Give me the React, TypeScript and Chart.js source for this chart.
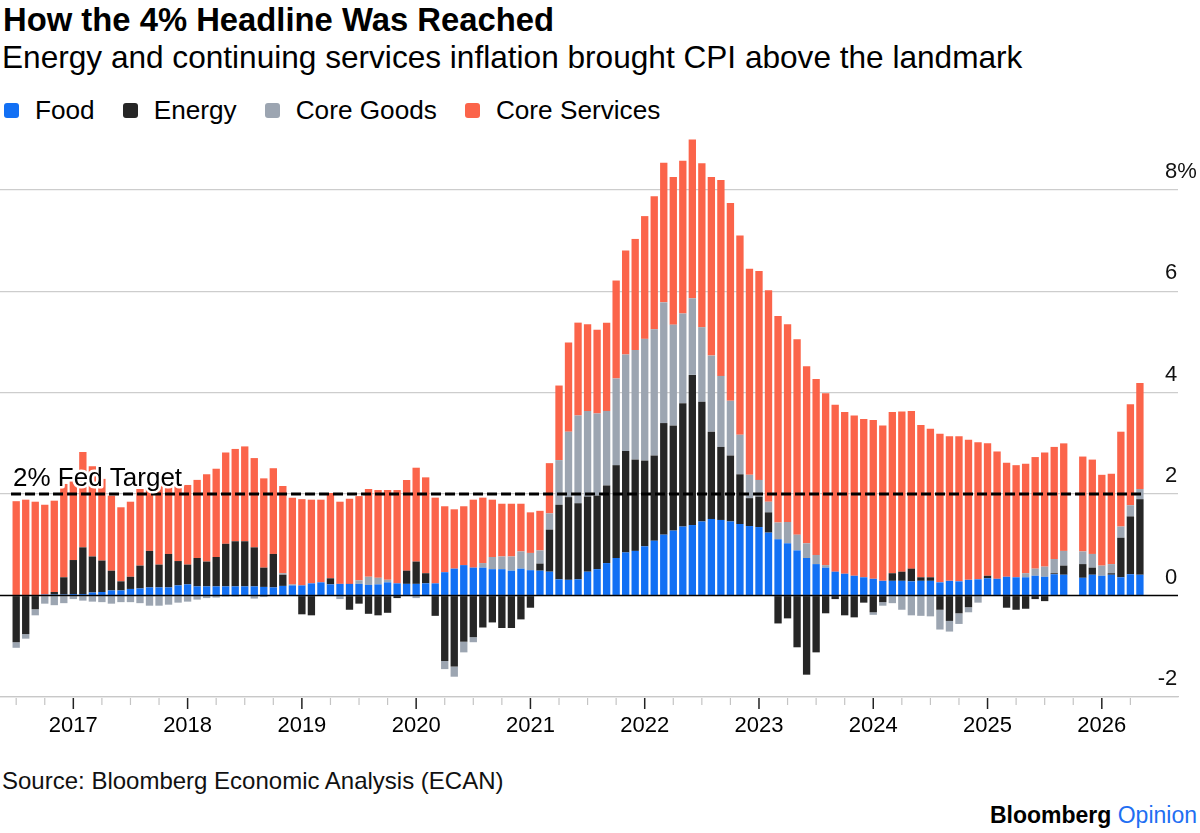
import React, { useEffect, useRef } from "react";
import { Chart, registerables } from "chart.js";

Chart.register(...registerables);

// ---------- data ----------
const START_YEAR = 2016;
const START_MONTH = 7; // first bar: July 2016 (monthly)

const FOOD = [
  0.0, 0.0, 0.0, 0.02, 0.02, 0.02, 0.03, 0.03, 0.06, 0.07, 0.1, 0.1,
  0.13, 0.14, 0.16, 0.16, 0.16, 0.2, 0.22, 0.18, 0.18, 0.18, 0.18, 0.18,
  0.18, 0.18, 0.17, 0.16, 0.19, 0.2, 0.2, 0.24, 0.26, 0.22, 0.23, 0.23,
  0.23, 0.21, 0.22, 0.26, 0.24, 0.23, 0.23, 0.24, 0.24, 0.46, 0.53, 0.6,
  0.55, 0.55, 0.52, 0.52, 0.49, 0.53, 0.5, 0.49, 0.47, 0.32, 0.31, 0.32,
  0.47, 0.52, 0.64, 0.74, 0.85, 0.88, 0.97, 1.08, 1.2, 1.28, 1.36, 1.39,
  1.46, 1.51, 1.49, 1.46, 1.41, 1.37, 1.35, 1.24, 1.11, 1.03, 0.89, 0.74,
  0.62, 0.55, 0.47, 0.43, 0.39, 0.36, 0.33, 0.29, 0.29, 0.29, 0.28, 0.29,
  0.29, 0.26, 0.29, 0.28, 0.31, 0.32, 0.34, 0.33, 0.37, 0.36, 0.36, 0.39,
  0.37, 0.42, 0.41, null, 0.35, 0.41, 0.39, 0.41, 0.36, 0.42, 0.41,
];

const ENERGY = [
  -0.92, -0.76, -0.27, 0.0, 0.05, 0.34, 0.67, 0.92, 0.71, 0.62, 0.39, 0.18,
  0.24, 0.45, 0.72, 0.45, 0.66, 0.48, 0.39, 0.56, 0.49, 0.58, 0.84, 0.89,
  0.89, 0.77, 0.38, 0.66, 0.22, 0.0, -0.37, -0.39, 0.0, 0.12, 0.0, -0.28,
  -0.16, -0.36, -0.39, -0.34, -0.05, 0.26, 0.44, 0.2, -0.4, -1.29, -1.4, -0.91,
  -0.82, -0.63, -0.53, -0.64, -0.64, -0.47, -0.24, 0.14, 0.83, 1.47, 1.63, 1.5,
  1.48, 1.45, 1.53, 1.83, 2.0, 1.8, 1.69, 1.68, 2.2, 2.07, 2.43, 2.96,
  2.36, 1.72, 1.44, 1.3, 0.98, 0.55, 0.6, 0.4, -0.55, -0.45, -1.02, -1.56,
  -1.12, -0.35, -0.07, -0.39, -0.43, -0.14, -0.33, -0.13, 0.15, 0.18, 0.25, 0.07,
  0.07, -0.28, -0.5, -0.35, -0.23, 0.0, 0.05, 0.0, -0.24, -0.28, -0.26, -0.07,
  -0.11, 0.02, 0.18, null, 0.27, 0.14, 0.0, 0.03, 0.78, 1.14, 1.49,
];

const CORE_GOODS = [
  -0.11, -0.09, -0.12, -0.16, -0.19, -0.15, -0.07, -0.1, -0.12, -0.13, -0.16, -0.13,
  -0.13, -0.15, -0.2, -0.2, -0.18, -0.14, -0.12, -0.08, -0.05, -0.04, -0.02, -0.02,
  0.0, -0.06, -0.03, 0.0, 0.03, 0.02, 0.0, 0.0, 0.0, 0.0, -0.07, 0.0,
  0.07, 0.16, 0.13, 0.05, 0.0, 0.0, -0.05, 0.0, 0.0, -0.16, -0.2, -0.21,
  -0.1, 0.09, 0.24, 0.25, 0.28, 0.34, 0.34, 0.26, 0.32, 0.88, 1.29, 1.73,
  1.69, 1.62, 1.47, 1.71, 1.9, 2.16, 2.4, 2.49, 2.38, 1.99, 1.77, 1.51,
  1.47, 1.5, 1.4, 1.08, 0.78, 0.46, 0.33, 0.21, 0.33, 0.42, 0.31, 0.29,
  0.18, 0.05, 0.0, 0.0, 0.0, 0.0, -0.05, -0.07, -0.15, -0.28, -0.39, -0.4,
  -0.41, -0.39, -0.21, -0.21, -0.1, -0.14, 0.0, 0.0, 0.0, 0.0, 0.08, 0.14,
  0.2, 0.28, 0.29, null, 0.25, 0.27, 0.2, 0.18, 0.22, 0.22, 0.2,
];

const CORE_SERVICES = [
  1.86, 1.89, 1.85, 1.77, 1.8, 1.84, 1.65, 1.88, 1.78, 1.61, 1.48, 1.46,
  1.48, 1.51, 1.27, 1.59, 1.43, 1.47, 1.57, 1.54, 1.72, 1.74, 1.8, 1.82,
  1.87, 1.76, 1.76, 1.69, 1.72, 1.71, 1.7, 1.65, 1.63, 1.68, 1.62, 1.68,
  1.66, 1.73, 1.73, 1.77, 1.84, 1.79, 1.85, 1.89, 1.69, 1.3, 1.17, 1.16,
  1.34, 1.29, 1.13, 1.04, 1.04, 0.94, 0.8, 0.78, 0.99, 1.47, 1.76, 1.83,
  1.71, 1.65, 1.74, 1.93, 2.05, 2.19, 2.42, 2.62, 2.75, 2.91, 3.01, 3.13,
  3.23, 3.52, 3.86, 3.9, 3.93, 4.06, 4.12, 4.17, 4.07, 3.9, 3.85, 3.49,
  3.47, 3.39, 3.29, 3.19, 3.16, 3.12, 3.13, 3.06, 3.18, 3.16, 3.11, 3.0,
  2.93, 2.93, 2.85, 2.86, 2.76, 2.7, 2.61, 2.51, 2.25, 2.21, 2.16, 2.2,
  2.25, 2.21, 2.12, null, 1.87, 1.86, 1.79, 1.78, 1.87, 1.99, 2.09,
];

const SERIES_NAMES = ["Food", "Energy", "Core Goods", "Core Services"];
const SERIES_COLORS = ["#1270f4", "#262626", "#9ca5b1", "#fb644a"];
const SERIES_VALUES = [FOOD, ENERGY, CORE_GOODS, CORE_SERVICES];

const Y_TICKS = [-2, 0, 2, 4, 6, 8];
const Y_TICK_LABELS = ["-2", "0", "2", "4", "6", "8%"];
const Y_MIN = -2;
const Y_MAX = 9;
const FED_TARGET = 2;
const FED_LABEL = "2% Fed Target";

const TITLE = "How the 4% Headline Was Reached";
const SUBTITLE =
  "Energy and continuing services inflation brought CPI above the landmark";
const SOURCE = "Source: Bloomberg Economic Analysis (ECAN)";

const FONT = "'Liberation Sans', Arial, Helvetica, sans-serif";

// ---------- helpers ----------
const monthOf = (i: number) => (START_MONTH - 1 + i) % 12; // 0 = Jan
const yearOf = (i: number) =>
  START_YEAR + Math.floor((START_MONTH - 1 + i) / 12);

const overlayPlugin = {
  id: "overlay",
  afterDatasetsDraw(chart: any) {
    const { ctx, chartArea, scales } = chart;
    const y = scales.y;
    ctx.save();
    // zero line
    const y0 = y.getPixelForValue(0);
    ctx.strokeStyle = "#000";
    ctx.lineWidth = 1.5;
    ctx.beginPath();
    ctx.moveTo(chartArea.left, y0);
    ctx.lineTo(chartArea.right, y0);
    ctx.stroke();

    // Fed target dashed line spanning the bars
    const meta = chart.getDatasetMeta(0);
    const els = meta.data.filter((e: any) => e && !isNaN(e.x));
    const first = els[0];
    const last = els[els.length - 1];
    const half = (first.width || 7) / 2;
    const yT = y.getPixelForValue(FED_TARGET);
    ctx.setLineDash([10, 4]);
    ctx.lineWidth = 3;
    ctx.strokeStyle = "#000";
    ctx.beginPath();
    ctx.moveTo(first.x - half - 1.5, yT);
    ctx.lineTo(last.x + half, yT);
    ctx.stroke();
    ctx.setLineDash([]);

    // label with white halo
    ctx.font = `26px ${FONT}`;
    ctx.textAlign = "left";
    ctx.textBaseline = "alphabetic";
    ctx.lineJoin = "round";
    ctx.lineWidth = 5;
    ctx.strokeStyle = "#fff";
    const lx = chartArea.left + 13;
    const ly = yT - 8;
    ctx.strokeText(FED_LABEL, lx, ly);
    ctx.fillStyle = "#000";
    ctx.fillText(FED_LABEL, lx, ly);
    ctx.restore();
  },
  afterDraw(chart: any) {
    const { ctx, chartArea, scales } = chart;
    const x = scales.x;
    const y = scales.y;
    ctx.save();
    // x tick marks (quarterly, longer at January)
    x.ticks.forEach((t: any) => {
      const px = x.getPixelForValue(t.value);
      const major = monthOf(t.value) === 0;
      ctx.strokeStyle = major ? "#222" : "#c4c4c4";
      ctx.lineWidth = major ? 1.5 : 1.2;
      ctx.beginPath();
      ctx.moveTo(px, x.top + 1);
      ctx.lineTo(px, x.top + (major ? 12 : 8));
      ctx.stroke();
    });
    // y labels, sitting above their gridlines at the right
    ctx.font = `22px ${FONT}`;
    ctx.fillStyle = "#111";
    ctx.textAlign = "left";
    ctx.textBaseline = "alphabetic";
    y.ticks.forEach((t: any) => {
      const idx = Y_TICKS.indexOf(t.value);
      if (idx < 0) return;
      const label = Y_TICK_LABELS[idx];
      let lx = chartArea.right - 13;
      if (label.startsWith("-")) lx -= ctx.measureText("-").width;
      ctx.fillText(label, lx, y.getPixelForValue(t.value) - 12);
    });
    ctx.restore();
  },
};

function BarChart() {
  const ref = useRef<HTMLCanvasElement | null>(null);
  useEffect(() => {
    if (!ref.current) return;
    Chart.defaults.font.family = FONT;
    const n = FOOD.length;
    const datasets = SERIES_NAMES.map((name, k) => ({
      label: name,
      data: SERIES_VALUES[k].map((v, i) => ({ x: i, y: v })),
      backgroundColor: SERIES_COLORS[k],
      borderWidth: 0,
      barPercentage: 0.77,
      categoryPercentage: 1,
      stack: "cpi",
    }));
    const quarterTicks: number[] = [];
    for (let i = 0; i < n; i++) if (monthOf(i) % 3 === 0) quarterTicks.push(i);

    const chart = new Chart(ref.current, {
      type: "bar",
      data: { datasets },
      plugins: [overlayPlugin],
      options: {
        animation: false,
        responsive: false,
        events: [],
        layout: { padding: { top: 9, right: 22, left: 0, bottom: 0 } },
        plugins: { legend: { display: false }, tooltip: { enabled: false } },
        scales: {
          x: {
            type: "linear",
            offset: false,
            stacked: true,
            min: -1.7,
            max: n + 3,
            grid: { display: false, drawTicks: false, offset: false },
            border: { display: true, color: "#c8c8c8", width: 1.2 },
            afterBuildTicks: (scale: any) => {
              scale.ticks = quarterTicks.map((v) => ({ value: v }));
            },
            afterFit: (scale: any) => {
              scale.height = 60;
            },
            ticks: {
              autoSkip: false,
              maxRotation: 0,
              padding: 16,
              color: "#000",
              font: { size: 22, family: FONT },
              callback: (v: any) =>
                monthOf(Number(v)) === 0 ? String(yearOf(Number(v))) : "",
            },
          },
          y: {
            type: "linear",
            position: "right",
            stacked: true,
            min: Y_MIN,
            max: Y_MAX,
            afterBuildTicks: (scale: any) => {
              scale.ticks = Y_TICKS.map((v) => ({ value: v }));
            },
            afterFit: (scale: any) => {
              scale.width = 0;
            },
            grid: {
              drawTicks: false,
              color: (c: any) =>
                c.tick && c.tick.value === 0 ? "rgba(0,0,0,0)" : "#cdcdcd",
              lineWidth: 1.2,
            },
            border: { display: false },
            ticks: { display: false },
          },
        },
      },
    });
    return () => chart.destroy();
  }, []);
  return <canvas ref={ref} width={1200} height={627} />;
}

export default function App() {
  const text: React.CSSProperties = {
    position: "absolute",
    whiteSpace: "nowrap",
    fontFamily: FONT,
    lineHeight: 1,
    color: "#000",
  };
  return (
    <div
      style={{
        position: "absolute",
        left: 0,
        top: 0,
        width: 1200,
        height: 833,
        background: "#fff",
        overflow: "hidden",
      }}
    >
      <div style={{ ...text, left: 3, top: 4, fontSize: 32.8, fontWeight: 700 }}>
        {TITLE}
      </div>
      <div style={{ ...text, left: 2, top: 42, fontSize: 31.6 }}>{SUBTITLE}</div>
      <div
        style={{
          ...text,
          left: 4,
          top: 97,
          fontSize: 26.2,
          display: "flex",
          alignItems: "center",
        }}
      >
        {SERIES_NAMES.map((name, k) => (
          <div key={name} style={{ display: "flex", alignItems: "center", marginRight: 28 }}>
            <span
              style={{
                display: "inline-block",
                width: 15,
                height: 15,
                borderRadius: 3,
                background: SERIES_COLORS[k],
                marginRight: 16,
              }}
            />
            <span>{name}</span>
          </div>
        ))}
      </div>
      <div style={{ position: "absolute", left: 0, top: 130, width: 1200, height: 627 }}>
        <BarChart />
      </div>
      <div style={{ ...text, left: 2, top: 769, fontSize: 24, color: "#111" }}>{SOURCE}</div>
      <div style={{ ...text, right: 3, top: 804, fontSize: 23 }}>
        <span style={{ fontWeight: 700 }}>Bloomberg</span>{" "}
        <span style={{ color: "#1f6ff2" }}>Opinion</span>
      </div>
    </div>
  );
}
